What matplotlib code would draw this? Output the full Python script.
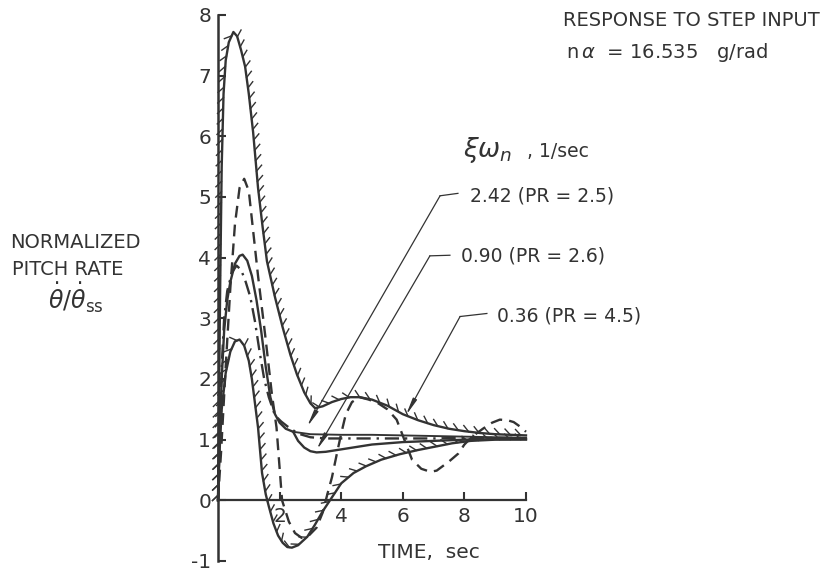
import matplotlib
matplotlib.use("Agg")
import matplotlib.pyplot as plt
import matplotlib.patheffects as pe

# ---------------- data ----------------
upper_t = [0, 0.03, 0.07, 0.12, 0.18, 0.25, 0.35, 0.5, 0.62, 0.75, 0.88, 1.0, 1.14,
           1.3, 1.45, 1.59, 1.85, 2.1, 2.35, 2.56, 2.8, 3.0, 3.15, 3.4, 3.7, 4.0,
           4.3, 4.6, 5.0, 5.5, 6.0, 6.5, 7.0, 7.5, 8.0, 8.5, 9.0, 9.5, 10.0]
upper_y = [0, 1.5, 3.5, 5.5, 6.7, 7.25, 7.55, 7.72, 7.65, 7.42, 7.15, 6.7, 6.07,
           5.15, 4.5, 3.94, 3.35, 2.85, 2.4, 2.08, 1.78, 1.6, 1.52, 1.55, 1.62, 1.67,
           1.7, 1.7, 1.66, 1.56, 1.42, 1.32, 1.24, 1.18, 1.14, 1.11, 1.09, 1.08, 1.07]

lower_t = [0, 0.05, 0.12, 0.25, 0.4, 0.55, 0.7, 0.85, 1.0, 1.1, 1.2, 1.3, 1.43,
           1.55, 1.65, 1.8, 1.95, 2.1, 2.25, 2.4, 2.6, 2.9, 3.15, 3.4, 3.7, 4.0,
           4.4, 4.8, 5.3, 5.9, 6.5, 7.0, 7.6, 8.2, 9.0, 10.0]
lower_y = [0, 0.8, 1.5, 2.1, 2.45, 2.62, 2.65, 2.55, 2.3, 2.0, 1.6, 1.2, 0.45,
           0.1, -0.1, -0.38, -0.58, -0.7, -0.77, -0.78, -0.74, -0.6, -0.4, -0.18, 0.05, 0.28,
           0.45, 0.56, 0.67, 0.76, 0.83, 0.88, 0.94, 0.98, 1.0, 1.0]

dash_t = [0, 0.1, 0.25, 0.4, 0.55, 0.7, 0.85, 1.0, 1.15, 1.3, 1.53, 1.75, 1.9,
          2.08, 2.3, 2.5, 2.72, 2.95, 3.2, 3.4, 3.55, 3.7, 3.86, 4.0, 4.15, 4.35,
          4.6, 4.9, 5.2, 5.5, 5.8, 6.05, 6.3, 6.6, 6.9, 7.1, 7.5, 7.8, 8.0, 8.25,
          8.6, 8.9, 9.15, 9.4, 9.6, 9.85, 10.0]
dash_y = [0, 0.8, 2.2, 3.5, 4.55, 5.15, 5.3, 5.1, 4.4, 3.7, 2.73, 1.75, 1.2,
          0.0, -0.35, -0.54, -0.62, -0.58, -0.45, -0.2, 0.1, 0.38, 0.77, 1.1, 1.42, 1.62,
          1.7, 1.66, 1.6, 1.5, 1.33, 1.0, 0.67, 0.52, 0.47, 0.49, 0.64, 0.77, 0.92, 1.05,
          1.18, 1.28, 1.33, 1.32, 1.29, 1.2, 1.13]

solid_t = [0, 0.05, 0.12, 0.2, 0.3, 0.4, 0.55, 0.7, 0.8, 0.95, 1.1, 1.25, 1.4,
           1.55, 1.7, 1.85, 2.0, 2.2, 2.44, 2.6, 2.8, 3.0, 3.2, 3.5, 4.0, 4.5,
           5.0, 5.5, 6.0, 7.0, 8.0, 9.0, 10.0]
solid_y = [0, 1.0, 2.0, 2.8, 3.3, 3.6, 3.9, 4.03, 4.05, 3.95, 3.7, 3.3, 2.8,
           2.2, 1.7, 1.42, 1.28, 1.18, 1.13, 0.98, 0.87, 0.81, 0.79, 0.8, 0.84, 0.88,
           0.92, 0.94, 0.96, 0.98, 1.0, 1.01, 1.02]

flat_t = [2.44, 3.0, 4.0, 5.0, 6.0, 7.0, 8.0, 9.0, 10.0]
flat_y = [1.13, 1.09, 1.08, 1.08, 1.07, 1.06, 1.05, 1.04, 1.03]

dashdot_t = [0, 0.05, 0.12, 0.2, 0.3, 0.45, 0.6, 0.75, 0.9, 1.05, 1.2, 1.35, 1.5,
             1.65, 1.85, 2.05, 2.25, 2.6, 3.0, 3.5, 4.0, 5.0, 6.0, 7.0, 8.0, 9.0, 10.0]
dashdot_y = [0, 1.0, 2.2, 3.0, 3.45, 3.75, 3.87, 3.8, 3.6, 3.35, 2.95, 2.45, 2.0,
             1.7, 1.4, 1.3, 1.22, 1.1, 1.04, 1.02, 1.02, 1.02, 1.02, 1.02, 1.03, 1.03, 1.03]

labels = ["2.42 (PR = 2.5)", "0.90 (PR = 2.6)", "0.36 (PR = 4.5)"]
label_xy = [(8.18, 5.02), (7.89, 4.03), (9.06, 3.04)]
leader_start = [(7.79, 5.06), (7.53, 4.04), (8.73, 3.08)]
leader_corner = [(7.21, 5.02), (6.88, 4.03), (7.86, 3.03)]
leader_end = [(2.89, 1.21), (3.2, 0.83), (6.1, 1.40)]

x_ticks = [2, 4, 6, 8, 10]
y_ticks = [-1, 0, 1, 2, 3, 4, 5, 6, 7, 8]

# ---------------- figure ----------------
INK = "#333333"
fig = plt.figure(figsize=(8.27, 5.71), dpi=100)
ax = fig.add_axes([218 / 827, 10 / 571, 308 / 827, 546 / 571])
ax.set_xlim(0, 10)
ax.set_ylim(-1, 8)

lw = 1.7
hatch = [pe.withTickedStroke(angle=135, spacing=7.5, length=0.75, linewidth=1.0)]
ax.plot(upper_t, upper_y, color=INK, lw=lw, path_effects=hatch, clip_on=False)
ax.plot(lower_t, lower_y, color=INK, lw=lw, path_effects=hatch, clip_on=False)
ax.plot(dash_t, dash_y, color=INK, lw=lw, linestyle=(0, (5, 3)), clip_on=False)
ax.plot(solid_t, solid_y, color=INK, lw=lw, clip_on=False)
ax.plot(flat_t, flat_y, color=INK, lw=lw * 0.8, clip_on=False)
ax.plot(dashdot_t, dashdot_y, color=INK, lw=lw, linestyle=(0, (6, 2.5, 1, 2.5)), clip_on=False)

# leaders and labels
for lab, lxy, s, c, e in zip(labels, label_xy, leader_start, leader_corner, leader_end):
    ax.plot([s[0], c[0]], [s[1], c[1]], color=INK, lw=0.9, clip_on=False)
    ax.annotate("", xy=e, xytext=c, xycoords="data",
                arrowprops=dict(arrowstyle="-|>,head_length=1.0,head_width=0.13",
                                color=INK, lw=0.9, shrinkA=0, shrinkB=0),
                annotation_clip=False)
    ax.text(lxy[0], lxy[1], lab, fontsize=13.5, color=INK, va="center", ha="left",
            clip_on=False)

# axes styling
for side in ["top", "right"]:
    ax.spines[side].set_visible(False)
ax.spines["bottom"].set_position(("data", 0))
ax.spines["left"].set_color(INK)
ax.spines["bottom"].set_color(INK)
ax.spines["left"].set_linewidth(1.8)
ax.spines["bottom"].set_linewidth(1.6)
ax.set_xticks(x_ticks)
ax.set_yticks(y_ticks)
ax.set_yticklabels([str(v) for v in y_ticks])
ax.tick_params(axis="both", direction="in", length=6, width=1.5, colors=INK,
               labelsize=14.5, labelcolor=INK)
ax.tick_params(axis="y", pad=5)
ax.tick_params(axis="x", pad=5)
ax.set_facecolor("none")

# texts
fig.text(563 / 827, 1 - 20 / 571, "RESPONSE TO STEP INPUT", fontsize=14, color=INK,
         va="center", ha="left")
fig.text(566 / 827, 1 - 52 / 571, r"n$\,\alpha$  = 16.535   g/rad", fontsize=14,
         color=INK, va="center", ha="left")
fig.text(463 / 827, 1 - 150 / 571, r"$\xi\omega_n$", fontsize=19, color=INK,
         va="center", ha="left")
fig.text(527 / 827, 1 - 152 / 571, ", 1/sec", fontsize=13.5, color=INK,
         va="center", ha="left")
fig.text(10 / 827, 1 - 243 / 571, "NORMALIZED", fontsize=14, color=INK,
         va="center", ha="left")
fig.text(12 / 827, 1 - 270 / 571, "PITCH RATE", fontsize=14, color=INK,
         va="center", ha="left")
fig.text(48 / 827, 1 - 298 / 571, r"$\dot{\theta}/\dot{\theta}_{\rm ss}$", fontsize=17,
         color=INK, va="center", ha="left")
fig.text(378 / 827, 1 - 553 / 571, "TIME,  sec", fontsize=14.5, color=INK,
         va="center", ha="left")

fig.savefig("out.png", dpi=100)
